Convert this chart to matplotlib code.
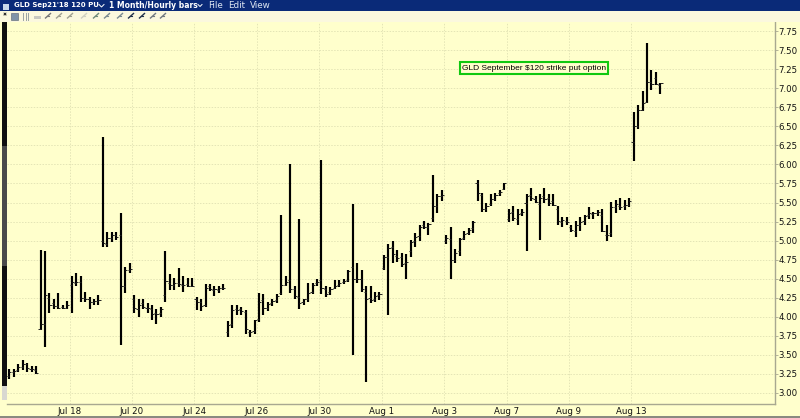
import matplotlib
matplotlib.use("Agg")
import matplotlib.pyplot as plt
from matplotlib.patches import Rectangle

# ---------- data ----------
highs = [3.31,3.32,3.38,3.43,3.40,3.36,3.35,4.88,4.86,4.31,4.24,4.31,4.15,4.21,4.53,4.58,4.53,4.33,4.26,4.23,4.29,
         6.36,5.11,5.11,5.11,5.36,4.66,4.71,4.29,4.23,4.23,4.18,4.15,4.10,4.13,4.86,4.56,4.51,4.64,4.53,4.51,4.51,
         4.26,4.24,4.43,4.43,4.40,4.40,4.43,3.94,4.15,4.15,4.13,4.09,3.83,3.96,4.31,4.30,4.20,4.23,4.30,
         5.33,4.53,6.00,4.41,5.28,4.24,4.44,4.45,4.50,6.06,4.41,4.39,4.48,4.48,4.50,4.61,5.48,4.70,4.61,4.41,4.41,4.32,4.33,
         4.81,4.96,4.99,4.88,4.84,4.82,5.01,5.10,5.21,5.26,5.23,5.86,5.61,5.66,5.07,5.18,4.89,5.04,5.13,5.16,5.26,
         5.79,5.63,5.49,5.61,5.63,5.66,5.76,5.41,5.45,5.41,5.41,5.61,5.69,5.58,5.61,5.69,5.61,5.61,5.45,5.31,5.31,5.21,5.26,5.31,5.33,5.44,5.38,5.40,5.41,5.21,5.51,5.53,5.56,5.53,5.56,
         6.69,6.78,6.96,7.59,7.24,7.21,7.07]
lows = [3.18,3.21,3.28,3.30,3.28,3.28,3.25,3.83,3.61,4.05,4.10,4.10,4.10,4.10,4.05,4.41,4.20,4.20,4.10,4.15,4.15,
        4.91,4.91,4.98,5.01,3.63,4.31,4.58,4.05,4.00,4.10,4.05,3.96,3.90,4.00,4.20,4.35,4.35,4.39,4.33,4.39,4.39,
        4.09,4.07,4.13,4.34,4.27,4.31,4.35,3.73,3.85,4.03,4.03,3.78,3.73,3.78,3.93,4.02,4.08,4.14,4.18,
        4.29,4.40,4.31,4.24,4.10,4.15,4.20,4.30,4.40,4.30,4.26,4.29,4.36,4.39,4.43,4.46,3.50,4.45,4.33,3.15,4.18,4.20,4.22,
        4.61,4.02,4.70,4.72,4.66,4.50,4.78,4.92,5.00,5.15,5.08,5.24,5.36,5.52,4.96,4.50,4.70,4.80,5.01,5.08,5.10,
        5.52,5.38,5.38,5.45,5.52,5.59,5.66,5.24,5.26,5.21,5.32,4.86,5.52,5.49,5.01,5.49,5.45,5.45,5.21,5.18,5.21,5.11,5.05,5.13,5.21,5.28,5.28,5.32,5.11,5.00,5.05,5.36,5.40,5.40,5.44,
        6.05,6.46,6.70,6.81,6.98,7.04,6.93]
opens = [3.22,3.27,3.30,3.34,3.38,3.32,3.30,3.84,3.90,4.25,4.18,4.14,4.13,4.12,4.42,4.45,4.46,4.25,4.24,4.20,4.21,
         5.00,4.96,5.04,5.08,5.08,4.40,4.62,4.24,4.10,4.18,4.12,4.10,4.05,4.05,4.28,4.45,4.42,4.45,4.42,4.43,4.40,
         4.24,4.20,4.16,4.40,4.35,4.35,4.38,3.80,3.90,4.10,4.10,4.06,3.80,3.82,3.97,4.22,4.12,4.18,4.22,
         4.31,4.42,4.48,4.36,4.26,4.19,4.24,4.32,4.44,4.48,4.36,4.32,4.38,4.42,4.46,4.48,4.66,4.50,4.49,4.33,4.25,4.24,4.28,
         4.64,4.78,4.92,4.80,4.78,4.70,4.86,5.00,5.06,5.20,5.18,5.30,5.46,5.58,5.00,5.02,4.74,4.86,5.03,5.10,5.16,
         5.76,5.60,5.42,5.48,5.54,5.62,5.68,5.28,5.38,5.28,5.36,5.50,5.60,5.55,5.48,5.58,5.56,5.52,5.42,5.24,5.26,5.18,5.13,5.20,5.26,5.34,5.35,5.36,5.33,5.08,5.10,5.44,5.46,5.45,5.47,
         6.30,6.50,6.72,6.82,7.08,7.14,7.04]
closes = [3.27,3.29,3.34,3.38,3.33,3.31,3.26,3.91,4.28,4.15,4.14,4.12,4.11,4.16,4.46,4.46,4.25,4.24,4.19,4.21,4.22,
          4.97,5.03,5.08,5.05,4.40,4.61,4.63,4.11,4.16,4.13,4.11,4.04,4.04,4.10,4.47,4.42,4.45,4.43,4.42,4.40,4.41,
          4.20,4.14,4.38,4.36,4.36,4.38,4.38,3.89,4.09,4.09,4.08,3.84,3.80,3.96,4.20,4.12,4.17,4.21,4.27,
          4.42,4.46,4.37,4.27,4.18,4.23,4.31,4.42,4.46,4.38,4.30,4.37,4.41,4.44,4.47,4.60,4.50,4.50,4.36,4.24,4.22,4.27,4.30,
          4.78,4.90,4.82,4.77,4.69,4.72,4.98,5.05,5.18,5.18,5.22,5.45,5.58,5.60,5.03,4.75,4.84,5.02,5.09,5.14,5.24,
          5.62,5.42,5.46,5.55,5.60,5.64,5.75,5.36,5.30,5.35,5.38,5.58,5.56,5.51,5.56,5.54,5.50,5.47,5.26,5.27,5.24,5.14,5.20,5.24,5.32,5.36,5.36,5.37,5.12,5.08,5.44,5.48,5.44,5.47,5.52,
          6.50,6.72,6.80,7.08,7.06,7.05,7.07]
bar_index = list(range(len(highs)))

date_labels = ["Jul 18","Jul 20","Jul 24","Jul 26","Jul 30","Aug 1","Aug 3","Aug 7","Aug 9","Aug 13"]
date_pos = [13.5,27.5,41.5,55.5,69.5,83.5,97.5,111.5,125.5,139.5]
price_ticks = [3.00,3.25,3.50,3.75,4.00,4.25,4.50,4.75,5.00,5.25,5.50,5.75,6.00,6.25,6.50,6.75,7.00,7.25,7.50,7.75]

# ---------- figure ----------
W, H = 800, 418
BG = "#FFFFCC"
fig = plt.figure(figsize=(W/100, H/100), dpi=100, facecolor=BG)
L, R, T, B = 7, 775, 22, 403.5
ax = fig.add_axes([L/W, 1-B/H, (R-L)/W, (B-T)/H], facecolor=BG, zorder=2)
ax.set_xlim(-0.516, 171.7)
ax.set_ylim(2.862, 7.869)

ax.set_axisbelow(True)
ax.grid(True, color="#E4E5B6", lw=0.7, ls=(0, (1.5, 1.5)))
ax.set_xticks(date_pos)
ax.set_xticklabels(date_labels, fontsize=6.2, family="DejaVu Sans", color="#111111")
ax.yaxis.tick_right()
ax.set_yticks(price_ticks)
ax.set_yticklabels([f"{v:.2f}" for v in price_ticks], fontsize=6.2, family="DejaVu Sans", color="#111111")
ax.tick_params(axis="y", length=2, width=0.6, color="#A8A890", pad=0.3)
ax.tick_params(axis="x", length=0, pad=2.5)
for s in ("left", "top"):
    ax.spines[s].set_visible(False)
for s in ("right", "bottom"):
    ax.spines[s].set_color("#A8A890")
    ax.spines[s].set_linewidth(1.0)

# OHLC bars
ax.vlines(bar_index, lows, highs, color="black", lw=1.55, zorder=3)
ax.hlines(opens, [i-0.48 for i in bar_index], bar_index, color="#222222", lw=0.7, zorder=3)
ax.hlines(closes, bar_index, [i+0.48 for i in bar_index], color="#222222", lw=0.7, zorder=3)

# annotation box
fig.text(534/W, 1-68/H, r"GLD September \$120 strike put option", ha="center", va="center",
         fontsize=6.0, family="Liberation Sans", color="black", zorder=5,
         bbox=dict(boxstyle="square,pad=0.28", fc=BG, ec="#10C810", lw=1.5))

# ---------- window chrome (pixel overlay) ----------
ov = fig.add_axes([0, 0, 1, 1], facecolor="none", zorder=4)
ov.set_xlim(0, W); ov.set_ylim(H, 0); ov.axis("off")

ov.add_patch(Rectangle((0, 0), W, 10.5, fc="#0A2A78", ec="none"))
ov.add_patch(Rectangle((0, 10.5), W, 11.5, fc="#FBF8DE", ec="none"))
ov.add_patch(Rectangle((2, 22), 5, 364, fc="#101010", ec="none"))
ov.add_patch(Rectangle((2, 146), 5, 120, fc="#4A4A4A", ec="none"))
ov.add_patch(Rectangle((2, 386), 5, 14, fc="#D8D8D0", ec="none"))
ov.add_patch(Rectangle((0, 416), W, 2, fc="#8A8A80", ec="none"))
ov.add_patch(Rectangle((3, 4), 6, 6, fc="#C8D8E8", ec="none"))

ov.text(14.5, 5.5, "GLD Sep21'18 120 PU", color="white", fontsize=5.0, fontweight="bold", family="DejaVu Sans", va="center")
ov.text(109, 5.5, "1 Month/Hourly bars", color="white", fontsize=5.5, fontweight="bold", family="DejaVu Sans", va="center")
ov.plot([99, 101.5, 104], [4.5, 7, 4.5], color="white", lw=0.7)
ov.plot([198, 200, 202], [4.5, 6.5, 4.5], color="white", lw=0.7)
for x, s in [(208, "File"), (228, "Edit"), (250, "View")]:
    ov.text(x, 5.5, s, color="#DDE6F2", fontsize=6.3, family="DejaVu Sans", va="center")

# toolbar glyphs
ov.add_patch(Rectangle((10.5, 13), 7, 6.5, fc="#8094A8", ec="#556070", lw=0.4))
ov.plot([4, 6, 5, 4, 6], [13, 15, 14, 15, 13], color="#333333", lw=0.6)
for x in (23, 25.5, 28):
    ov.plot([x, x], [12.5, 19.5], color="#9AA4A4", lw=0.7)
ov.add_patch(Rectangle((34, 16), 7, 3, fc="#C8C8C0", ec="none"))
for x, c in [(48, "#777777"), (59, "#A0A090"), (70, "#A0A090"), (84, "#D0D0C0"), (96, "#6F8A7A"),
             (107, "#7A8A90"), (120, "#7A8A90"), (131, "#22324A"), (142, "#22324A"), (153, "#707880"), (163, "#707880")]:
    ov.plot([x-2.5, x+2.5], [18, 13.5], color=c, lw=1.0)
    ov.plot([x-1, x+1], [15.7, 15.7], color=c, lw=0.8)

fig.savefig("out.png", dpi=100, facecolor=fig.get_facecolor())
